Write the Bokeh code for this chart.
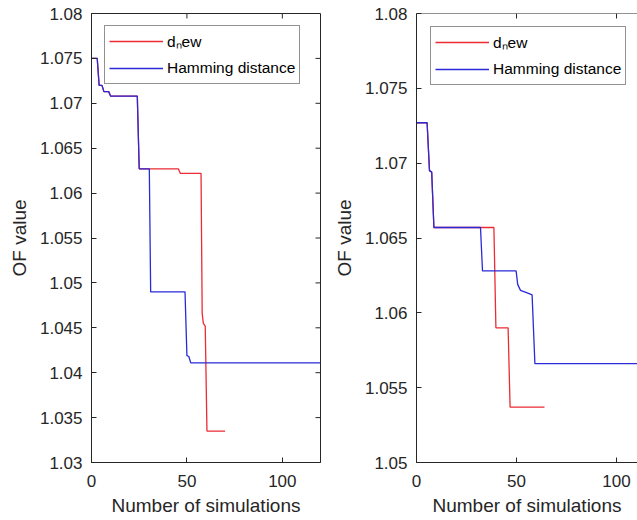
from bokeh.plotting import figure
from bokeh.layouts import row
from bokeh.models import FixedTicker, Legend, LegendItem, Range1d, Span
from bokeh.embed import file_html
from bokeh.resources import INLINE

# ---------------- data ----------------
series_labels = ["d\u2099ew", "Hamming distance"]
x_label = "Number of simulations"
y_label = "OF value"

# left panel
left_red_x = [0, 3, 4, 5.5, 6.5, 9, 10, 24, 25, 45.5, 46.5, 57.4, 58, 58.6, 59.6, 60.5, 70]
left_red_y = [1.0750, 1.0750, 1.0720, 1.0720, 1.0713, 1.0713, 1.0708, 1.0708, 1.0627, 1.0627,
              1.0622, 1.0622, 1.0466, 1.0455, 1.0452, 1.0335, 1.0335]
left_blue_x = [0, 3, 4, 5.5, 6.5, 9, 10, 24, 25, 30.3, 31, 49, 50, 51, 52, 120]
left_blue_y = [1.0750, 1.0750, 1.0720, 1.0720, 1.0713, 1.0713, 1.0708, 1.0708, 1.0627, 1.0627,
               1.0490, 1.0490, 1.0419, 1.0418, 1.0411, 1.0411]

# right panel
right_red_x = [0, 5.3, 6.5, 7.6, 8.7, 38.7, 39.7, 45.8, 46.8, 64]
right_red_y = [1.0727, 1.0727, 1.0695, 1.0694, 1.0657, 1.0657, 1.0590, 1.0590, 1.0537, 1.0537]
right_blue_x = [0, 5.3, 6.5, 7.6, 8.7, 32, 33, 49.8, 50.6, 52, 56, 57.8, 59.2, 120]
right_blue_y = [1.0727, 1.0727, 1.0695, 1.0694, 1.0657, 1.0657, 1.0628, 1.0628, 1.0619, 1.0615,
                1.0613, 1.0612, 1.0566, 1.0566]

x_ticks = [0, 50, 100]
x_tick_labels = ["0", "50", "100"]
left_y_ticks = [1.03, 1.035, 1.04, 1.045, 1.05, 1.055, 1.06, 1.065, 1.07, 1.075, 1.08]
left_y_labels = ["1.03", "1.035", "1.04", "1.045", "1.05", "1.055", "1.06", "1.065", "1.07", "1.075", "1.08"]
right_y_ticks = [1.05, 1.055, 1.06, 1.065, 1.07, 1.075, 1.08]
right_y_labels = ["1.05", "1.055", "1.06", "1.065", "1.07", "1.075", "1.08"]

# ---------------- style ----------------
FONT = "Liberation Sans"
AX = "#262626"
RED = "#ec2b33"
BLUE = "#2a2ad8"
TICK = 5  # px


def style_axis(ax, ticks, labels):
    ax.ticker = FixedTicker(ticks=ticks)
    ax.major_tick_in = TICK
    ax.major_tick_out = 0
    ax.minor_tick_in = 0
    ax.minor_tick_out = 0
    ax.axis_line_color = AX
    ax.major_tick_line_color = AX
    ax.major_label_overrides = {t: l for t, l in zip(ticks, labels)}
    ax.major_label_text_font = FONT
    ax.major_label_text_font_size = "17px"
    ax.major_label_text_color = AX
    ax.axis_label_text_font = FONT
    ax.axis_label_text_font_size = "19px"
    ax.axis_label_text_font_style = "normal"
    ax.axis_label_text_color = AX


def make_panel(width, height, mb_left, mb_right, mb_top, mb_bottom, x_end, y_start,
               y_ticks, y_labels, red_x, red_y, blue_x, blue_y, right_box, legend_off):
    y_end = 1.08
    p = figure(width=width, height=height, x_range=Range1d(0, x_end),
               y_range=Range1d(y_start, y_end), output_backend="svg",
               toolbar_location=None, min_border_left=mb_left,
               min_border_right=mb_right, min_border_top=mb_top,
               min_border_bottom=mb_bottom)
    p.grid.visible = False
    p.background_fill_color = "white"
    p.border_fill_color = "white"
    p.outline_line_color = AX if right_box else None

    xa = p.xaxis[0]
    style_axis(xa, x_ticks, x_tick_labels)
    xa.axis_label = x_label
    xa.major_label_standoff = 12
    xa.axis_label_standoff = 5

    ya = p.yaxis[0]
    style_axis(ya, y_ticks, y_labels)
    ya.axis_label = y_label
    ya.major_label_standoff = 9
    ya.axis_label_standoff = 7

    frame_w = width - mb_left - mb_right
    frame_h = height - mb_top - mb_bottom
    dx = TICK * x_end / frame_w
    dy = TICK * (y_end - y_start) / frame_h

    if not right_box:
        p.add_layout(Span(location=y_end, dimension="width", line_color=AX, line_width=1))

    # box ticks (top, and right when the box is shown), pointing inward
    top_x = [t for t in x_ticks if 0 < t < x_end]
    p.segment(x0=top_x, x1=top_x, y0=[y_end - dy] * len(top_x), y1=[y_end] * len(top_x),
              line_color=AX, line_width=1)
    if right_box:
        rt_y = [t for t in y_ticks if y_start < t < y_end]
        p.segment(x0=[x_end - dx] * len(rt_y), x1=[x_end] * len(rt_y), y0=rt_y, y1=rt_y,
                  line_color=AX, line_width=1)

    r_red = p.line(red_x, red_y, line_color=RED, line_width=1.3)
    r_blue = p.line(blue_x, blue_y, line_color=BLUE, line_width=1.3)

    leg_h = 57
    legend = Legend(items=[LegendItem(label=series_labels[0], renderers=[r_red]),
                           LegendItem(label=series_labels[1], renderers=[r_blue])],
                    location=(legend_off[0], frame_h - legend_off[1] - leg_h),
                    margin=0, padding=4, spacing=5,
                    glyph_width=54, glyph_height=22, label_height=22,
                    label_standoff=4, label_text_font=FONT,
                    label_text_font_size="15.5px", label_text_color="black",
                    border_line_color=AX, border_line_width=1,
                    background_fill_color="white", background_fill_alpha=1.0)
    p.add_layout(legend)
    return p


p1 = make_panel(330, 520, 91, 10, 10, 58, 120, 1.03, left_y_ticks, left_y_labels,
                left_red_x, left_red_y, left_blue_x, left_blue_y,
                right_box=True, legend_off=(13, 17))
p2 = make_panel(307, 520, 86, 0, 13, 58, 110.5, 1.05, right_y_ticks, right_y_labels,
                right_red_x, right_red_y, right_blue_x, right_blue_y,
                right_box=False, legend_off=(14, 15))

layout = row(p1, p2)
open("out.html", "w").write(file_html(layout, INLINE))
